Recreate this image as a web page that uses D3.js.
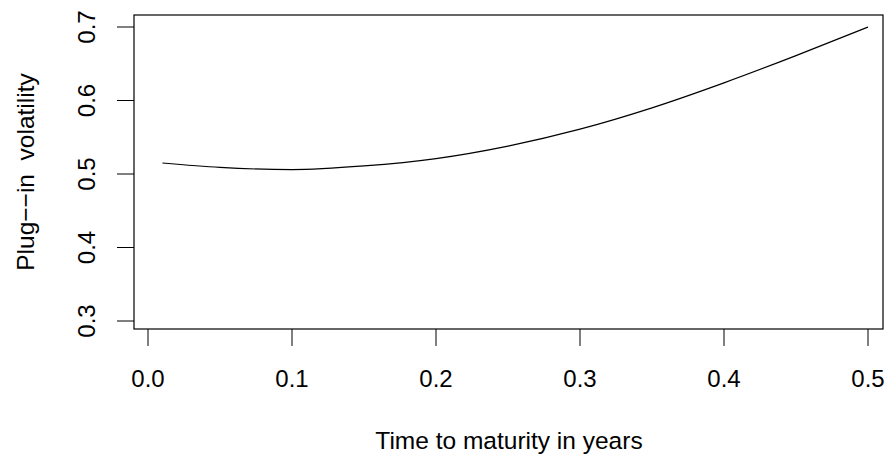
<!DOCTYPE html>
<html><head><meta charset="utf-8">
<script src="https://cdn.jsdelivr.net/npm/d3@7"></script>
<style>body{margin:0;background:#fff}</style>
</head><body>
<svg id="chart" width="886" height="455"></svg>
<script>
// curve
const maturity = [0.01, 0.05, 0.1, 0.15, 0.2, 0.25, 0.3, 0.35, 0.4, 0.45, 0.5];
const volatility = [0.515, 0.509, 0.506, 0.511, 0.521, 0.538, 0.561, 0.590, 0.624, 0.661, 0.700];
const xTicks = [0.0, 0.1, 0.2, 0.3, 0.4, 0.5];
const yTicks = [0.3, 0.4, 0.5, 0.6, 0.7];

const svg = d3.select("#chart").style("font-family", "Liberation Sans, Arial, sans-serif");
const x = d3.scaleLinear().domain([0, 0.5]).range([148, 868]);
const y = d3.scaleLinear().domain([0.3, 0.7]).range([321, 27]);

svg.append("rect").attr("x", 134).attr("y", 15).attr("width", 749).attr("height", 314)
  .attr("fill", "none").attr("stroke", "#000").attr("stroke-width", 1.2);

const line = d3.line().curve(d3.curveMonotoneX).x((d, i) => x(maturity[i])).y(d => y(d));
svg.append("path").attr("d", line(volatility)).attr("fill", "none").attr("stroke", "#000").attr("stroke-width", 1.2);

// x axis ticks hang below the box
xTicks.forEach(t => {
  svg.append("line").attr("x1", x(t)).attr("x2", x(t)).attr("y1", 329).attr("y2", 346).attr("stroke", "#000");
  svg.append("text").attr("x", x(t)).attr("y", 378).attr("text-anchor", "middle")
    .attr("dominant-baseline", "central").attr("font-size", 24).text(t.toFixed(1));
});
// y axis ticks to the left
yTicks.forEach(t => {
  svg.append("line").attr("x1", 117).attr("x2", 134).attr("y1", y(t)).attr("y2", y(t)).attr("stroke", "#000");
  svg.append("text").attr("transform", `translate(86,${y(t)}) rotate(-90)`).attr("text-anchor", "middle")
    .attr("dominant-baseline", "central").attr("font-size", 24).text(t.toFixed(1));
});

svg.append("text").attr("x", 509).attr("y", 440).attr("text-anchor", "middle")
  .attr("dominant-baseline", "central").attr("font-size", 24.5).text("Time to maturity in years");
svg.append("text").attr("transform", `translate(25,172) rotate(-90)`).attr("text-anchor", "middle")
  .attr("dominant-baseline", "central").attr("font-size", 24.5).attr("xml:space", "preserve").text("Plug\u2212\u2212in  volatility");
</script>
</body></html>
